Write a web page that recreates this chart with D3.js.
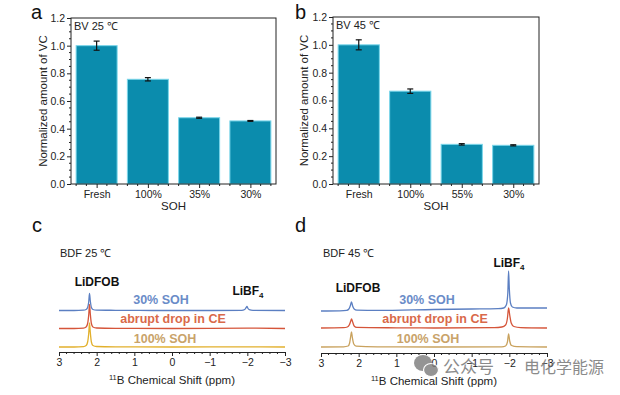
<!DOCTYPE html>
<html><head><meta charset="utf-8">
<script src="https://cdn.jsdelivr.net/npm/d3@7"></script>
<style>
html,body{margin:0;padding:0;background:#fff;}
svg{display:block;font-family:"Liberation Sans",Arial,sans-serif;}
</style></head>
<body><svg id="c" width="620" height="395"></svg>
<script>
// ---------------- DATA ----------------
const categoriesA = ["Fresh", "100%", "35%", "30%"];
const valuesA = [1.0, 0.757, 0.479, 0.456];
const errorsA = [0.033, 0.012, 0.004, 0.003];

const categoriesB = ["Fresh", "100%", "55%", "30%"];
const valuesB = [1.0, 0.667, 0.285, 0.278];
const errorsB = [0.036, 0.016, 0.005, 0.004];

const yTicksBar = [0, 0.2, 0.4, 0.6, 0.8, 1.0, 1.2];
const xTicksNMR = [3, 2, 1, 0, -1, -2, -3];

const seriesNames = ["30% SOH", "abrupt drop in CE", "100% SOH"];
// stack offsets of each trace (intensity units)
const offsetsC = [41.5, 23.5, 5];
const offsetsD = [42, 25, 6];

// [ppm, intensity], BDF 25 °C
const specC30 = [[3,0],[2.6,0],[2.35,0.3],[2.28,1],[2.24,3],[2.21,9],[2.19,17],[2.17,10],[2.14,3],[2.1,1],[2.0,0.4],[1.5,0.2],[0.5,0],[-1,0],[-1.85,0.2],[-1.93,1],[-1.97,3],[-1.99,4],[-2.01,2.5],[-2.05,0.8],[-2.15,0.2],[-3,0]];
const specCCE = [[3,0],[2.6,0],[2.35,0.4],[2.28,1.5],[2.24,5],[2.21,14],[2.19,24],[2.17,15],[2.14,5],[2.1,1.5],[2.0,0.5],[1.5,0.2],[0,0],[-2,0.3],[-3,0]];
const specC100 = [[3,0],[2.6,0],[2.35,0.4],[2.28,1.5],[2.24,5],[2.21,14],[2.19,24],[2.17,15],[2.14,5],[2.1,1.5],[2.0,0.5],[1.5,0.2],[0,0],[-2,0.2],[-3,0]];
// BDF 45 °C
const specD30 = [[3,0],[2.5,0.2],[2.32,0.6],[2.26,2],[2.22,5.5],[2.19,9],[2.16,5],[2.12,2],[2.05,0.8],[1.5,0.6],[0,1.5],[-1,2],[-1.7,2.4],[-1.85,3],[-1.92,6],[-1.96,18],[-1.98,40],[-2.0,22],[-2.03,8],[-2.08,4],[-2.2,3],[-3,3]];
const specDCE = [[3,0],[2.4,0.3],[2.3,1],[2.25,3],[2.21,7],[2.19,9],[2.16,6],[2.12,2],[2.05,0.6],[1,0.2],[0,0],[-1.6,0.3],[-1.8,1],[-1.9,3],[-1.95,10],[-1.98,20],[-2.01,13],[-2.05,5],[-2.12,1.5],[-2.3,0.4],[-3,0]];
const specD100 = [[3,0],[2.4,0.2],[2.28,1],[2.24,4],[2.21,11],[2.19,15],[2.17,10],[2.13,3],[2.07,0.8],[1.5,0.2],[0,0],[-1.8,0.2],[-1.9,1],[-1.95,5],[-1.98,13],[-2.01,6],[-2.06,1.5],[-2.2,0.3],[-3,0]];

// ---------------- STYLE ----------------
const barFill = "#0b8cad", barEdge = "#7ad6ea";
const traceColorsC = ["#5b7fc2", "#d5553a", "#e2b02c"];
const traceColorsD = ["#5b7fc2", "#d5553a", "#c9a25e"];
const labelColors = ["#6a8cc8", "#d9694a", "#c9a36a"];

const svg = d3.select("#c");

// ---------------- BAR PANELS ----------------
function barPanel(o) {
  const g = svg.append("g");
  const x = d3.scaleLinear().domain([0.5, 4.5]).range([o.left, o.right]);
  const y = d3.scaleLinear().domain([0, 1.2]).range([o.bottom, o.top]);
  const bw = x(1.4) - x(0.6);
  // bars
  g.selectAll("rect.bar").data(o.values).join("rect")
    .attr("x", (d, i) => x(i + 1) - bw / 2).attr("width", bw)
    .attr("y", d => y(d)).attr("height", d => y(0) - y(d))
    .attr("fill", barFill).attr("stroke", barEdge).attr("stroke-width", 1);
  // error bars
  const eb = g.selectAll("g.eb").data(o.values).join("g");
  eb.append("line").attr("x1", (d, i) => x(i + 1)).attr("x2", (d, i) => x(i + 1))
    .attr("y1", (d, i) => y(d + o.errors[i])).attr("y2", (d, i) => y(d - o.errors[i]))
    .attr("stroke", "#111").attr("stroke-width", 1.2);
  ["+", "-"].forEach(s => {
    eb.append("line").attr("x1", (d, i) => x(i + 1) - 3).attr("x2", (d, i) => x(i + 1) + 3)
      .attr("y1", (d, i) => y(s === "+" ? d + o.errors[i] : d - o.errors[i]))
      .attr("y2", (d, i) => y(s === "+" ? d + o.errors[i] : d - o.errors[i]))
      .attr("stroke", "#111").attr("stroke-width", 1.2);
  });
  // frame
  g.append("rect").attr("x", o.left).attr("y", o.top)
    .attr("width", o.right - o.left).attr("height", o.bottom - o.top)
    .attr("fill", "none").attr("stroke", "#222").attr("stroke-width", 1);
  // y axis
  const minorY = d3.range(0, 1.2001, 0.05).filter(v => Math.abs(v * 5 - Math.round(v * 5)) > 1e-6);
  const ya = g.append("g").attr("transform", `translate(${o.left},0)`)
    .call(d3.axisLeft(y).tickValues(yTicksBar).tickFormat(d3.format(".1f")).tickSize(4).tickPadding(2));
  ya.select(".domain").remove();
  ya.selectAll("text").attr("font-size", 10.5).attr("fill", "#222").attr("font-family", "Liberation Sans, Arial");
  ya.selectAll("line").attr("stroke", "#222");
  g.append("g").selectAll("line").data(minorY).join("line")
    .attr("x1", o.left - 2).attr("x2", o.left).attr("y1", d => y(d)).attr("y2", d => y(d)).attr("stroke", "#222");
  // x axis
  const xa = g.append("g").attr("transform", `translate(0,${o.bottom})`)
    .call(d3.axisBottom(x).tickValues([1, 2, 3, 4]).tickFormat((d) => o.cats[d - 1]).tickSize(4).tickPadding(3));
  xa.select(".domain").remove();
  xa.selectAll("text").attr("font-size", 10.5).attr("fill", "#222").attr("font-family", "Liberation Sans, Arial");
  xa.selectAll("line").attr("stroke", "#222");
  const minorX = [];
  for (let c = 1; c <= 4; c++) [-0.4, -0.2, 0.2, 0.4].forEach(dx => minorX.push(c + dx));
  g.append("g").selectAll("line").data(minorX).join("line")
    .attr("x1", d => x(d)).attr("x2", d => x(d)).attr("y1", o.bottom).attr("y2", o.bottom + 2).attr("stroke", "#222");
  // titles
  g.append("text").attr("x", (o.left + o.right) / 2).attr("y", o.bottom + 26)
    .attr("text-anchor", "middle").attr("font-size", 11.5).attr("fill", "#222").text("SOH");
  g.append("text").attr("transform", `translate(${o.yTitleX},${(o.top + o.bottom) / 2}) rotate(-90)`)
    .attr("text-anchor", "middle").attr("font-size", 11.5).attr("fill", "#222").text("Normalized amount of VC");
  g.append("text").attr("x", o.left + 3).attr("y", o.top + 12)
    .attr("font-size", 11).attr("fill", "#222").text(o.tag);
  g.append("text").attr("x", o.letterX).attr("y", 19).attr("font-size", 20).attr("fill", "#111").text(o.letter);
}

barPanel({ left: 71, right: 276, top: 18, bottom: 184, values: valuesA, errors: errorsA, cats: categoriesA,
  tag: "BV 25 \u2103", letter: "a", letterX: 31, yTitleX: 47 });
barPanel({ left: 333, right: 539, top: 17, bottom: 184, values: valuesB, errors: errorsB, cats: categoriesB,
  tag: "BV 45 \u2103", letter: "b", letterX: 295, yTitleX: 308 });

// ---------------- NMR PANELS ----------------
function nmrPanel(o) {
  const g = svg.append("g");
  const x = d3.scaleLinear().domain([3, -3]).range([o.left, o.right]);
  const y = d3.scaleLinear().domain([0, 100]).range([o.axisY, o.axisY - 100]);
  const line = d3.line().x(d => x(d[0])).y(d => y(d[1])).curve(d3.curveMonotoneX);
  o.specs.forEach((s, i) => {
    g.append("path").datum(s.map(p => [p[0], p[1] + o.offsets[i]]))
      .attr("d", line).attr("fill", "none").attr("stroke", o.colors[i]).attr("stroke-width", 1.3);
  });
  const xa = g.append("g").attr("transform", `translate(0,${o.axisY})`)
    .call(d3.axisBottom(x).tickValues(xTicksNMR).tickFormat(d => d < 0 ? "\u2212" + (-d) : String(d)).tickSize(4).tickPadding(3).tickSizeOuter(0));
  xa.selectAll("text").attr("font-size", 10.5).attr("fill", "#222").attr("font-family", "Liberation Sans, Arial");
  xa.selectAll("line").attr("stroke", "#222");
  xa.select(".domain").attr("stroke", "#222");
  const minor = d3.range(-3, 3.0001, 0.2).filter(v => Math.abs(v - Math.round(v)) > 1e-6);
  g.append("g").selectAll("line").data(minor).join("line")
    .attr("x1", d => x(d)).attr("x2", d => x(d)).attr("y1", o.axisY).attr("y2", o.axisY + 2).attr("stroke", "#222");
  const t = g.append("text").attr("x", (o.left + o.right) / 2).attr("y", o.axisY + 32)
    .attr("text-anchor", "middle").attr("font-size", 11.5).attr("fill", "#222");
  t.append("tspan").attr("font-size", 7.5).attr("dy", -4).text("11");
  t.append("tspan").attr("dy", 4).text("B Chemical Shift (ppm)");
  g.append("text").attr("x", o.tagX).attr("y", 257).attr("font-size", 11).attr("fill", "#222").text(o.tag);
  g.append("text").attr("x", o.letterX).attr("y", 232).attr("font-size", 20).attr("fill", "#111").text(o.letter);
  // peak labels
  g.append("text").attr("x", o.dfob[0]).attr("y", o.dfob[1]).attr("text-anchor", "middle")
    .attr("font-size", 12).attr("font-weight", "bold").attr("fill", "#111").text("LiDFOB");
  const bf = g.append("text").attr("x", o.bf4[0]).attr("y", o.bf4[1]).attr("text-anchor", "middle")
    .attr("font-size", 12).attr("font-weight", "bold").attr("fill", "#111");
  bf.append("tspan").text("LiBF");
  bf.append("tspan").attr("font-size", 8).attr("dy", 3).text("4");
  seriesNames.forEach((n, i) => {
    g.append("text").attr("x", o.labX[i]).attr("y", [304, 323, 343][i]).attr("text-anchor", "middle")
      .attr("font-size", 12.5).attr("font-weight", "bold").attr("fill", labelColors[i]).text(n);
  });
}

nmrPanel({ left: 59, right: 285, axisY: 352, specs: [specC30, specCCE, specC100], offsets: offsetsC,
  colors: traceColorsC, tag: "BDF 25 \u2103", tagX: 60, letter: "c", letterX: 32,
  dfob: [97, 286], bf4: [248, 295], labX: [161, 173, 165] });
nmrPanel({ left: 321, right: 547, axisY: 353, specs: [specD30, specDCE, specD100], offsets: offsetsD,
  colors: traceColorsD, tag: "BDF 45 \u2103", tagX: 323, letter: "d", letterX: 295,
  dfob: [358, 292], bf4: [509, 267], labX: [427, 435, 428] });

// ---------------- WATERMARK ----------------
const wm = svg.append("g").attr("opacity", 0.8);
wm.append("ellipse").attr("cx", 423).attr("cy", 363).attr("rx", 9).attr("ry", 8).attr("fill", "#7a7a7a");
wm.append("ellipse").attr("cx", 431).attr("cy", 370).attr("rx", 7.5).attr("ry", 6.5).attr("fill", "#7a7a7a").attr("stroke", "#fff").attr("stroke-width", 1.2);
wm.append("text").attr("x", 443).attr("y", 373).attr("font-size", 17).attr("fill", "#6e6e6e")
  .attr("font-family", "Noto Sans CJK SC").text("公众号");
wm.append("text").attr("x", 510).attr("y", 367).attr("font-size", 12).attr("fill", "#6e6e6e").text("·");
wm.append("text").attr("x", 524).attr("y", 373).attr("font-size", 16).attr("fill", "#6e6e6e")
  .attr("font-family", "Noto Sans CJK SC").text("电化学能源");
</script></body></html>
